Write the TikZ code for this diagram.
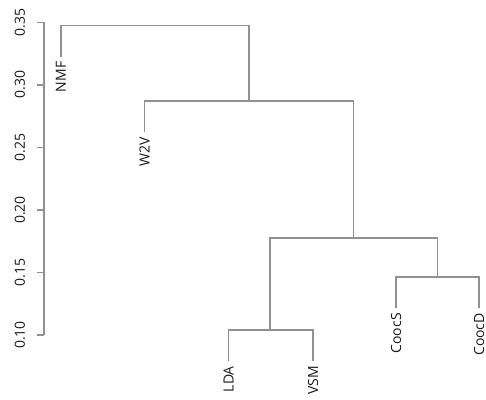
\documentclass[tikz,border=0pt]{standalone}
\usepackage{fontspec}
\setmainfont{Open Sans}
\usetikzlibrary{calc}
\definecolor{dline}{RGB}{145,145,145}
\definecolor{dtext}{RGB}{25,25,25}
\tikzset{
  dendro/.style={draw=dline, line width=1.5pt},
  leaflab/.style={rotate=90, anchor=east, inner sep=0pt, font=\fontsize{14}{14}\selectfont, text=dtext},
  ticklab/.style={rotate=90, anchor=center, inner sep=0pt, font=\fontsize{14}{14}\selectfont, text=dtext}
}
\begin{document}
\begin{tikzpicture}[x=1pt,y=-1pt]
\useasboundingbox (0,0) rectangle (486,399);
% axis
\coordinate (atop) at (44,22.3);
\coordinate (abot) at (44,335);
\draw[dendro] (atop) -- (abot);
\foreach \i/\lab in {0/0.35,1/0.30,2/0.25,3/0.20,4/0.15,5/0.10}{
  \coordinate (t\i) at (44,22.3+\i*62.54);
  \coordinate (tl\i) at (37,22.3+\i*62.54);
  \draw[dendro] (t\i) -- (tl\i);
  \node[ticklab] (tick\i) at (20,22.3+\i*62.54) {\lab};
}
% merge points (x = midpoint of children, y = height)
\coordinate (root) at (155,25.5);
\coordinate (m2) at (249,101);
\coordinate (m3) at (353.5,238);
\coordinate (m4) at (270,330);
\coordinate (m5) at (437.5,277);
% leaf ends
\coordinate (lNMF) at (61,56.5);
\coordinate (lW2V) at (144.5,132);
\coordinate (lLDA) at (228.5,361);
\coordinate (lVSM) at (313,361);
\coordinate (lCoocS) at (396,308);
\coordinate (lCoocD) at (479,308);
% branches
\draw[dendro] (lNMF) |- (root) -| (m2);
\draw[dendro] (lW2V) |- (m2) -| (m3);
\draw[dendro] (m4) |- (m3) -| (m5);
\draw[dendro] (lLDA) |- (m4) -| (lVSM);
\draw[dendro] (lCoocS) |- (m5) -| (lCoocD);
% labels
\node[leaflab] (NMF) at ($(lNMF)+(0,5)$) {NMF};
\node[leaflab] (W2V) at ($(lW2V)+(0,5)$) {W2V};
\node[leaflab] (LDA) at ($(lLDA)+(0,5)$) {LDA};
\node[leaflab] (VSM) at ($(lVSM)+(0,5)$) {VSM};
\node[leaflab] (CoocS) at ($(lCoocS)+(0,5)$) {CoocS};
\node[leaflab] (CoocD) at ($(lCoocD)+(0,5)$) {CoocD};
\end{tikzpicture}
\end{document}
